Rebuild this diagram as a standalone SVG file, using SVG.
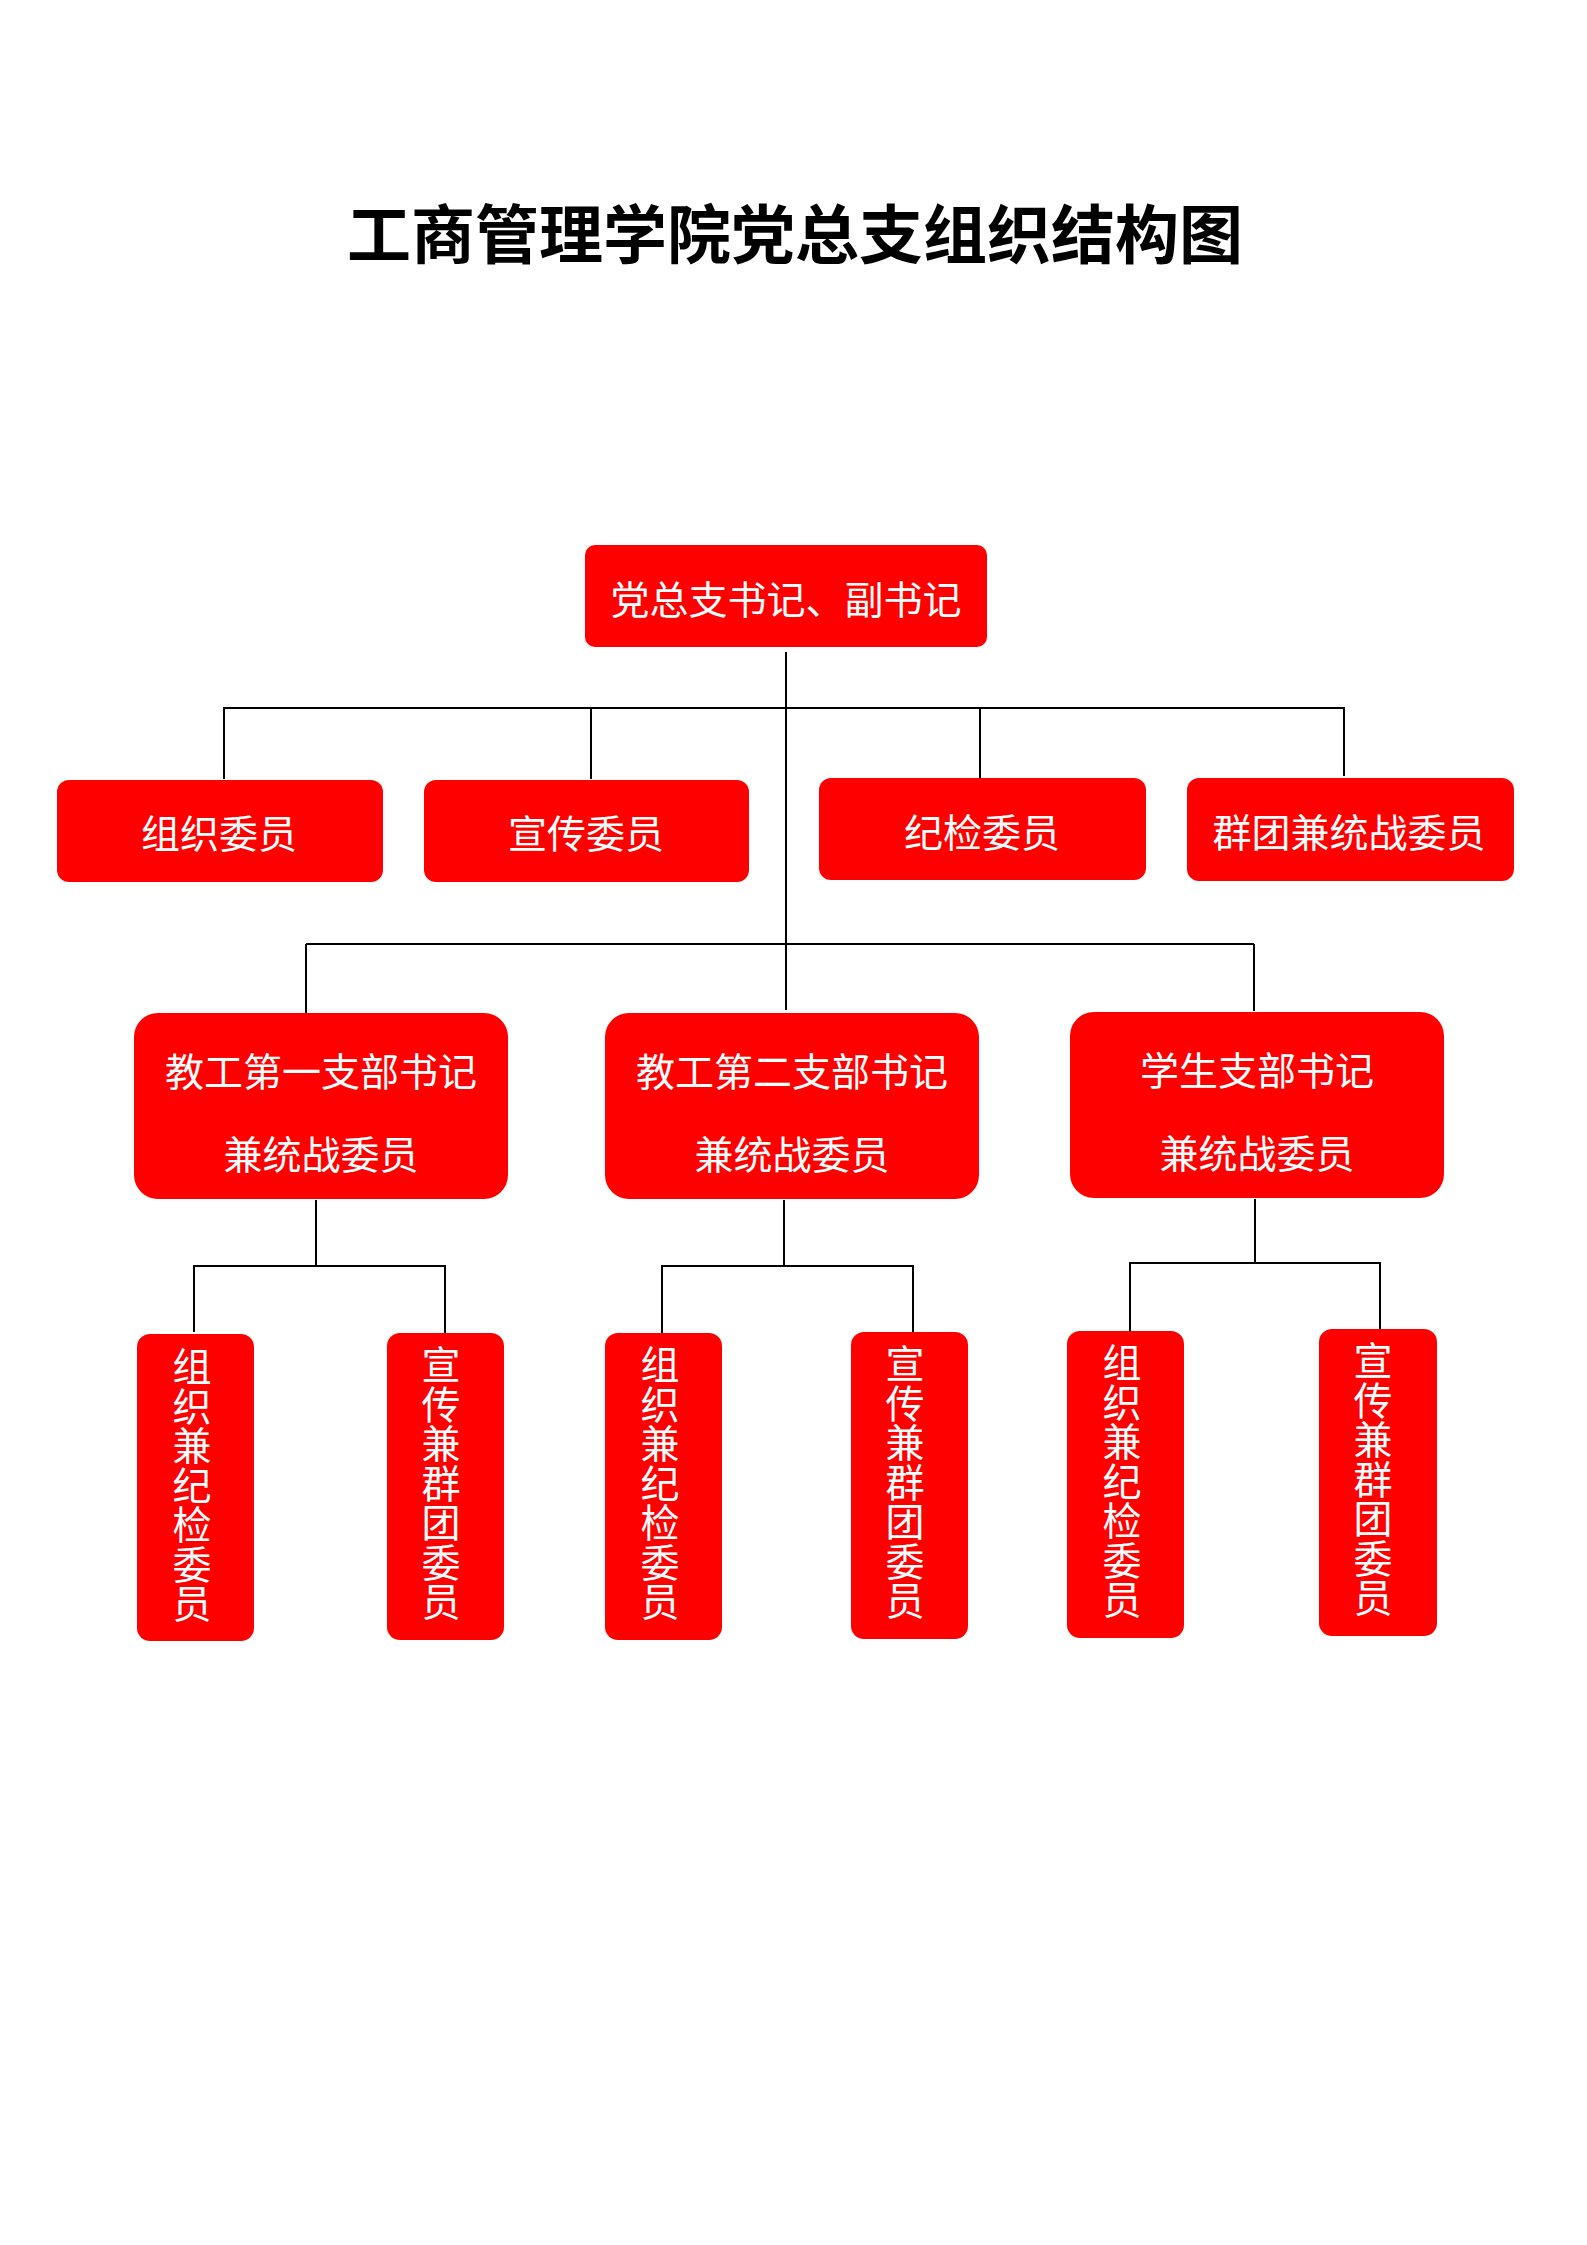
<svg xmlns="http://www.w3.org/2000/svg" width="1587" height="2245" viewBox="0 0 1587 2245">
<style>
.box{fill:#FF0000;}
.t{fill:#FFFFFF;font-family:"Noto Sans CJK SC",sans-serif;font-size:39px;text-anchor:middle;}
.v{fill:#FFFFFF;font-family:"Noto Sans CJK SC",sans-serif;font-size:39px;writing-mode:vertical-rl;text-orientation:upright;letter-spacing:0.5px;}
.title{fill:#000000;font-family:"Noto Sans CJK SC",sans-serif;font-size:64px;font-weight:700;text-anchor:middle;}
.ln{fill:none;stroke:#000000;stroke-width:2;}
</style>
<rect width="1587" height="2245" fill="#FFFFFF"/>
<text class="title" x="795" y="258">工商管理学院党总支组织结构图</text>
<g id="connectors">
<path class="ln" d="M786 652 V1010"/>
<path class="ln" d="M223 708 H1345"/>
<path class="ln" d="M224 708 V779 M591 708 V779 M980 708 V778 M1344 708 V776"/>
<path class="ln" d="M306 944 H1254"/>
<path class="ln" d="M306 944 V1013 M1254 944 V1011"/>
<path class="ln" d="M316 1200 V1266 M193 1266 H446 M194 1266 V1332 M445 1266 V1334"/>
<path class="ln" d="M784 1200 V1266 M661 1266 H914 M662 1266 V1334 M913 1266 V1332"/>
<path class="ln" d="M1255 1199 V1263 M1129 1263 H1381 M1130 1263 V1332 M1380 1263 V1330"/>
</g>
<g id="n0"><rect class="box" x="585" y="545" width="402" height="102" rx="10"/><text class="t" x="786" y="614">党总支书记、副书记</text></g>
<g id="n1"><rect class="box" x="57" y="780" width="326" height="102" rx="12"/><text class="t" x="219" y="848">组织委员</text></g>
<g id="n2"><rect class="box" x="424" y="780" width="325" height="102" rx="12"/><text class="t" x="586" y="848">宣传委员</text></g>
<g id="n3"><rect class="box" x="819" y="778" width="327" height="102" rx="12"/><text class="t" x="982" y="847">纪检委员</text></g>
<g id="n4"><rect class="box" x="1187" y="778" width="327" height="103" rx="12"/><text class="t" x="1349" y="847">群团兼统战委员</text></g>
<g id="n5"><rect class="box" x="134" y="1013" width="374" height="186" rx="24"/><text class="t" x="321" y="1086">教工第一支部书记</text><text class="t" x="321" y="1169">兼统战委员</text></g>
<g id="n6"><rect class="box" x="605" y="1013" width="374" height="186" rx="24"/><text class="t" x="792" y="1086">教工第二支部书记</text><text class="t" x="792" y="1169">兼统战委员</text></g>
<g id="n7"><rect class="box" x="1070" y="1012" width="374" height="186" rx="24"/><text class="t" x="1257" y="1085">学生支部书记</text><text class="t" x="1257" y="1168">兼统战委员</text></g>
<g id="n8"><rect class="box" x="137" y="1334" width="117" height="307" rx="13"/><text class="v" x="192" y="1347">组织兼纪检委员</text></g>
<g id="n9"><rect class="box" x="387" y="1333" width="117" height="307" rx="13"/><text class="v" x="441" y="1345">宣传兼群团委员</text></g>
<g id="n10"><rect class="box" x="605" y="1333" width="117" height="307" rx="13"/><text class="v" x="660" y="1345">组织兼纪检委员</text></g>
<g id="n11"><rect class="box" x="851" y="1332" width="117" height="307" rx="13"/><text class="v" x="905" y="1344">宣传兼群团委员</text></g>
<g id="n12"><rect class="box" x="1067" y="1331" width="117" height="307" rx="13"/><text class="v" x="1122" y="1343">组织兼纪检委员</text></g>
<g id="n13"><rect class="box" x="1319" y="1329" width="118" height="307" rx="13"/><text class="v" x="1373" y="1341">宣传兼群团委员</text></g>
</svg>
